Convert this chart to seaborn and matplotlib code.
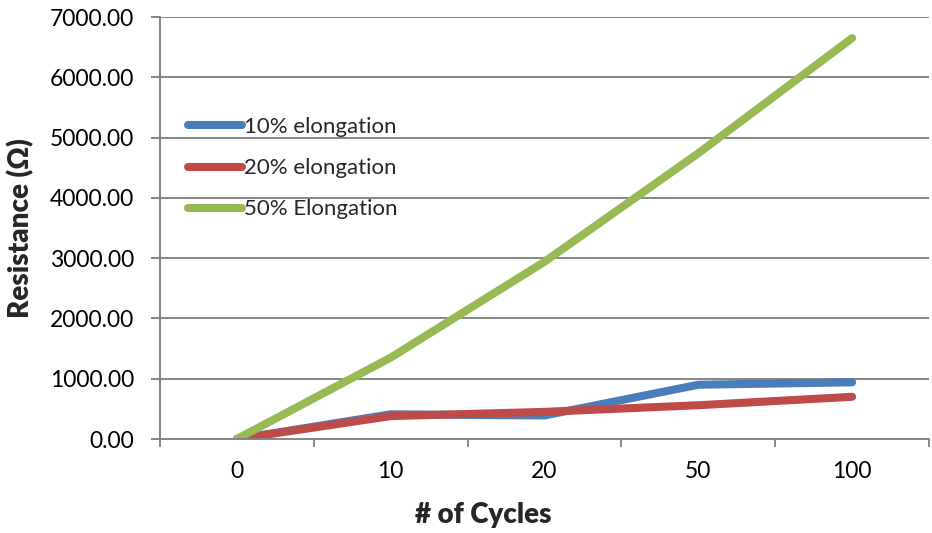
import matplotlib
matplotlib.use("Agg")
import matplotlib.pyplot as plt
import seaborn as sns
import pandas as pd
from matplotlib.ticker import FixedLocator, FuncFormatter

# Resistance measured after repeated stretch cycles
cycles = ["0", "10", "20", "50", "100"]
series_names = ["10% elongation", "20% elongation", "50% Elongation"]
res_10 = [0.0, 410.0, 390.0, 900.0, 940.0]
res_20 = [0.0, 380.0, 450.0, 560.0, 700.0]
res_50 = [0.0, 1350.0, 2940.0, 4740.0, 6650.0]
y_ticks = [0, 1000, 2000, 3000, 4000, 5000, 6000, 7000]

colors = ["#4A7EBB", "#BE4B48", "#98B954"]

rows = []
for name, vals in zip(series_names, [res_10, res_20, res_50]):
    for c, v in zip(cycles, vals):
        rows.append({"Cycles": c, "Resistance": v, "Series": name})
df = pd.DataFrame(rows)

sns.set_theme(style="white")
plt.rcParams["font.family"] = ["Lato", "DejaVu Sans"]

fig = plt.figure(figsize=(9.32, 5.33), dpi=100)
ax = fig.add_axes([160 / 932, 1 - 439 / 533, (929 - 160) / 932, (439 - 17) / 533])

lw = 5.8
sns.lineplot(data=df, x="Cycles", y="Resistance", hue="Series",
             hue_order=series_names, palette=colors, linewidth=lw,
             sort=False, ax=ax, solid_capstyle="round", legend=True)

grid_c = "#868686"
ax.set_xlim(-0.5, len(cycles) - 0.5)
ax.set_ylim(0, 7000)
ax.set_yticks(y_ticks)
ax.yaxis.set_major_formatter(FuncFormatter(lambda v, p: f"{v:.2f}"))
ax.yaxis.grid(True, color=grid_c, linewidth=1.4)
ax.set_axisbelow(True)

# category labels centred, tick marks between categories
ax.set_xticks(range(len(cycles)))
ax.set_xticklabels(cycles)
ax.xaxis.set_minor_locator(FixedLocator([i - 0.5 for i in range(len(cycles) + 1)]))
ax.tick_params(axis="x", which="major", length=0, pad=16, labelsize=16.5, colors="black")
ax.tick_params(axis="x", which="minor", length=6, width=1.4, color=grid_c, direction="out", bottom=True)
ax.tick_params(axis="y", length=6.5, width=1.4, color=grid_c, direction="out", left=True,
               pad=12, labelsize=16.5, labelcolor="black")

for s in ["top", "right"]:
    ax.spines[s].set_visible(False)
for s in ["left", "bottom"]:
    ax.spines[s].set_color(grid_c)
    ax.spines[s].set_linewidth(1.4)

fig.text(483 / 932, 1 - 515 / 533, "# of Cycles", fontsize=20, fontweight="heavy",
         ha="center", va="center")
fig.text(21 / 932, 1 - 228 / 533, "Resistance (Ω)", fontsize=20, fontweight="heavy",
         ha="center", va="center", rotation=90)
ax.set_xlabel("")
ax.set_ylabel("")

leg = ax.legend(loc="upper left", bbox_to_anchor=(0.011, 0.81), frameon=False,
                fontsize=16, handlelength=2.4, handletextpad=0.12, labelspacing=0.95)
for line in leg.get_lines():
    line.set_linewidth(lw)
    line.set_solid_capstyle("round")

fig.savefig("out.png", dpi=100)
